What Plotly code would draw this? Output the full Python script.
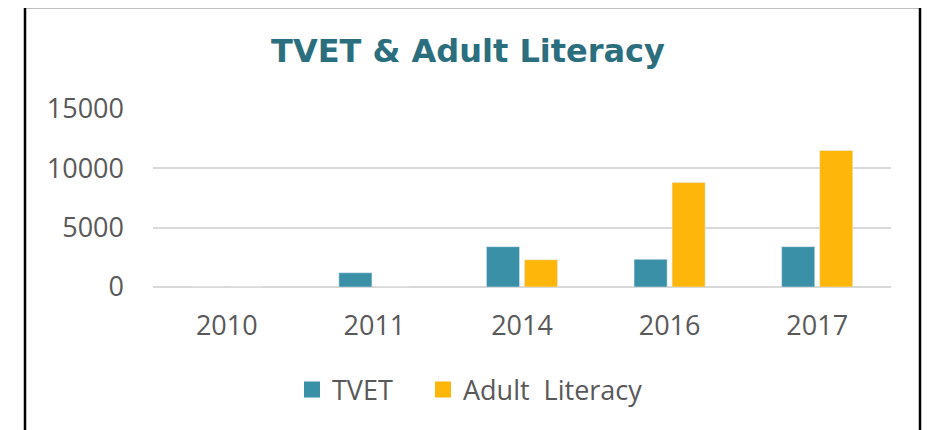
import plotly.graph_objects as go

years = ["2010", "2011", "2014", "2016", "2017"]
tvet = [0, 1200, 3400, 2330, 3400]
adult_literacy = [0, 0, 2300, 8800, 11500]
series_names = ["TVET", "Adult\u00a0 Literacy"]
series_colors = ["#3A90A7", "#FFB60B"]
y_ticks = [0, 5000, 10000, 15000]
y_tick_text = ["0", "5000", "10000", "15000"]

# page offset of the figure (body margin)
OFF = 8
W, H = 922, 422
# plot area in page pixels
L, R, T, B = 153 - OFF, 891 - OFF, 109 - OFF, 287 - OFF
pw, ph = R - L, B - T

def px_x(p):
    return (p - OFF - L) / pw

def px_y(p):
    return (B - (p - OFF)) / ph

legend_ids = ["legend", "legend2"]
legend_left = [292, 423]  # page px

fig = go.Figure()
for name, vals, col, lg in zip(series_names, [tvet, adult_literacy],
                               series_colors, legend_ids):
    fig.add_trace(go.Bar(x=years, y=vals, name=name, marker_color=col,
                         showlegend=False))
    fig.add_trace(go.Scatter(x=[None], y=[None], mode="markers", name=name,
                             legend=lg,
                             marker=dict(symbol="square", size=18, color=col)))

legend_common = dict(orientation="h", xanchor="left",
                     y=1 - (390 - OFF) / H, yanchor="middle",
                     xref="container", yref="container",
                     font=dict(size=27, color="#595959"), itemwidth=30,
                     bgcolor="rgba(0,0,0,0)")

fig.update_layout(
    width=W, height=H,
    margin=dict(l=L, r=W - R, t=T, b=H - B, pad=0),
    paper_bgcolor="white", plot_bgcolor="white",
    barmode="group", bargap=0.485, bargroupgap=0.13,
    title=dict(text="<b>TVET & Adult Literacy</b>",
               font=dict(family="DejaVu Sans", size=32, color="#2B6E7D"),
               x=(468 - OFF) / W, xanchor="center",
               y=1 - (51 - OFF) / H, yanchor="middle",
               xref="container", yref="container"),
    font=dict(family="Open Sans", color="#595959"),
    xaxis=dict(type="category", showgrid=False, showline=False, ticks="",
               tickfont=dict(size=27, color="#595959"), ticklabelstandoff=20),
    yaxis=dict(range=[0, 15000], tickvals=y_ticks, ticktext=y_tick_text,
               showgrid=True, gridcolor="#D9D9D9", gridwidth=2, zeroline=True,
               zerolinecolor="#D9D9D9", zerolinewidth=2, showline=False,
               ticks="", tickfont=dict(size=27, color="#595959"),
               ticklabelstandoff=28),
    legend=dict(x=(legend_left[0] - OFF) / W, **legend_common),
    legend2=dict(x=(legend_left[1] - OFF) / W, **legend_common),
    shapes=[dict(type="rect", xref="paper", yref="paper",
                 x0=px_x(25), x1=px_x(920), y0=px_y(445), y1=px_y(7),
                 line=dict(color="black", width=2.5), layer="above")],
)

fig.write_html("out.html")
